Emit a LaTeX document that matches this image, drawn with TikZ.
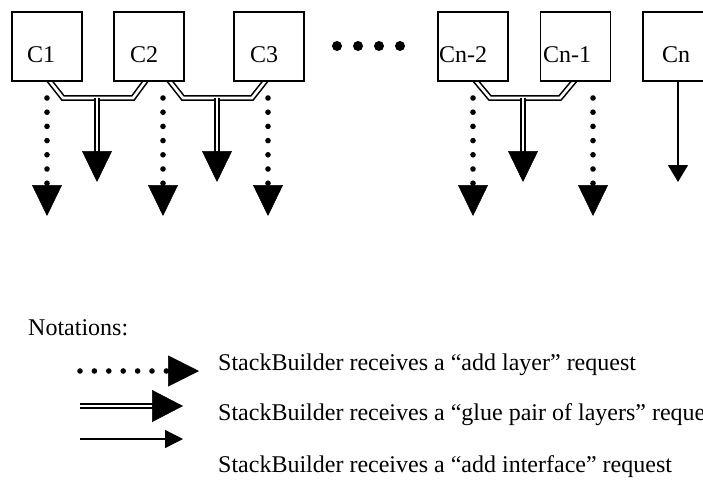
\documentclass[tikz,border=0pt]{standalone}
\usepackage{fontspec}
\setmainfont{Liberation Serif}
\usetikzlibrary{arrows.meta,backgrounds,calc}
\begin{document}
\begin{tikzpicture}[x=1pt,y=-1pt,
  box/.style={draw, fill=white, line width=1.4pt, minimum width=70pt, minimum height=69pt, inner sep=0pt},
  lbl/.style={anchor=base west, inner sep=0pt, font=\fontsize{24}{28}\selectfont},
  glue/.style={double, double distance=2.6pt, line width=1.6pt},
  dotline/.style={line width=5.6pt, line cap=round, dash pattern=on 0pt off 14.2pt},
  bighead/.style={-{Triangle[length=31pt,width=30pt]}, line width=0.5pt},
  thinarrow/.style={line width=1.3pt},
]
\clip (0,0) rectangle (703,479);

% component boxes
\node[box] (c1)  at (47,46.5)    {};
\node[box] (c2)  at (149,46.5)   {};
\node[box] (c3)  at (269,46.5)   {};
\node[box] (cn2) at (473,46.5)   {};
\node[box] (cn1) at (575.5,46.5) {};
\node[box] (cn)  at (678,46.5)   {};

\node[lbl] (c1t)  at (27,62)  {C1};
\node[lbl] (c2t)  at (130,62) {C2};
\node[lbl] (c3t)  at (250,62) {C3};
\node[lbl] (cn2t) at (439,62) {Cn-2};
\node[lbl] (cn1t) at (543,62) {Cn-1};
\node[lbl] (cnt)  at (662,62) {Cn};

% ellipsis between C3 and Cn-2
\foreach \i/\x in {1/337,2/358,3/379,4/400}
  \fill (\x,46) circle (5pt) coordinate (dot\i);

% end points of the requests
\coordinate (d1) at (47,216);
\coordinate (d2) at (163,216);
\coordinate (d3) at (268,216);
\coordinate (d4) at (473,216);
\coordinate (d5) at (593,216);
\coordinate (g1) at (97,182);
\coordinate (g2) at (217,182);
\coordinate (g3) at (523,182);
\coordinate (i1) at (678,182);

\begin{pgfonlayer}{background}
  % glue pair of layers
  \draw[glue] ($(c1.south)+(0,-4)$) -- (63,98) -- (133,98) -- ($(c2.south)+(-1,-4)$);
  \draw[glue] ($(c2.south)+(18,-4)$) -- (183,98) -- (252,98) -- ($(c3.south)+(-1,-4)$);
  \draw[glue] ($(cn2.south)+(0,-4)$) -- (490,98) -- (560,98) -- ($(cn1.south)+(1.5,-4)$);
\end{pgfonlayer}

\foreach \g in {g1,g2,g3}{
  \draw[glue] (\g |- 0,98) -- ($(\g)+(0,-28)$);
  \draw[bighead] ($(\g)+(0,-31)$) -- (\g);
}

% add layer requests
\foreach \d in {d1,d2,d3,d4,d5}{
  \draw[dotline] (\d |- 0,98) -- ($(\d)+(0,-32)$);
  \draw[bighead] ($(\d)+(0,-32)$) -- (\d);
}

% add interface request
\draw[thinarrow, -{Triangle[length=17pt,width=20pt]}] (cn.south) -- (i1);

% legend
\node[lbl] (notes) at (28,335) {Notations:};

\coordinate (l1a) at (80,371);  \coordinate (l1b) at (199,371);
\coordinate (l2a) at (80,406);  \coordinate (l2b) at (183,406);
\coordinate (l3a) at (80,439);  \coordinate (l3b) at (183,439);

\draw[line width=5.6pt, line cap=round, dash pattern=on 0pt off 14.4pt] (l1a) -- ($(l1b)+(-32,0)$);
\draw[-{Triangle[length=31pt,width=31pt]}, line width=0.5pt] ($(l1b)+(-32,0)$) -- (l1b);

\draw[glue] (l2a) -- ($(l2b)+(-29,0)$);
\draw[-{Triangle[length=31pt,width=32pt]}, line width=0.5pt] ($(l2b)+(-31,0)$) -- (l2b);

\draw[thinarrow, -{Triangle[length=18pt,width=18pt]}] (l3a) -- (l3b);

\node[lbl] (t1) at (218,370) {StackBuilder receives a “add layer” request};
\node[lbl] (t2) at (218,420) {StackBuilder receives a “glue pair of layers” request};
\node[lbl] (t3) at (218,472) {StackBuilder receives a “add interface” request};
\end{tikzpicture}
\end{document}
